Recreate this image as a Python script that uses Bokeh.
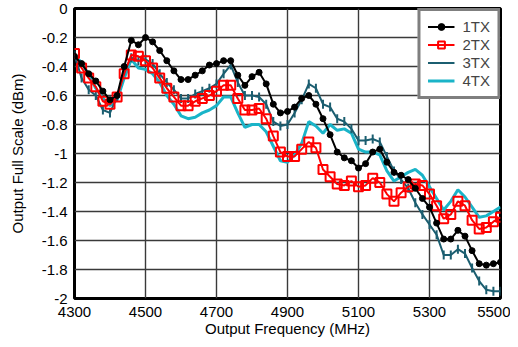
from bokeh.plotting import figure
from bokeh.models import Range1d, FixedTicker, Legend, LegendItem
from bokeh.embed import file_html
from bokeh.resources import INLINE
import numpy as np

freq = list(range(4300, 5501, 20))

tx1 = [-0.33, -0.38, -0.45, -0.50, -0.57, -0.63, -0.60, -0.40, -0.22, -0.25,
       -0.20, -0.23, -0.29, -0.36, -0.43, -0.49, -0.49, -0.46, -0.43, -0.39,
       -0.38, -0.36, -0.36, -0.46, -0.53, -0.47, -0.44, -0.52, -0.66, -0.72,
       -0.71, -0.68, -0.62, -0.60, -0.66, -0.76, -0.87, -0.99, -1.03, -1.05,
       -1.10, -1.07, -0.99, -0.97, -1.06, -1.13, -1.15, -1.18, -1.24, -1.31,
       -1.37, -1.48, -1.59, -1.59, -1.53, -1.57, -1.67, -1.76, -1.77, -1.76,
       -1.75]
tx2 = [-0.31, -0.41, -0.48, -0.54, -0.64, -0.66, -0.61, -0.45, -0.32, -0.33,
       -0.36, -0.41, -0.48, -0.55, -0.61, -0.67, -0.67, -0.64, -0.62, -0.60,
       -0.57, -0.53, -0.53, -0.62, -0.70, -0.70, -0.69, -0.76, -0.88, -0.99,
       -1.02, -1.02, -0.97, -0.92, -0.96, -1.11, -1.16, -1.21, -1.22, -1.19,
       -1.23, -1.22, -1.17, -1.20, -1.28, -1.33, -1.27, -1.23, -1.21, -1.22,
       -1.28, -1.36, -1.45, -1.42, -1.33, -1.36, -1.46, -1.52, -1.51, -1.47,
       -1.44]
tx3 = [-0.32, -0.48, -0.56, -0.60, -0.70, -0.72, -0.61, -0.43, -0.34, -0.36,
       -0.35, -0.38, -0.45, -0.51, -0.56, -0.62, -0.62, -0.59, -0.57, -0.55,
       -0.52, -0.45, -0.39, -0.51, -0.60, -0.60, -0.61, -0.66, -0.78, -0.81,
       -0.80, -0.72, -0.63, -0.52, -0.55, -0.66, -0.68, -0.76, -0.78, -0.83,
       -0.91, -0.91, -0.90, -0.92, -1.02, -1.12, -1.18, -1.24, -1.34, -1.42,
       -1.49, -1.56, -1.70, -1.70, -1.66, -1.69, -1.79, -1.88, -1.94, -1.95,
       -1.95]
tx4 = [-0.33, -0.37, -0.46, -0.55, -0.62, -0.67, -0.63, -0.48, -0.35, -0.41,
       -0.42, -0.45, -0.51, -0.60, -0.66, -0.74, -0.76, -0.75, -0.72, -0.70,
       -0.67, -0.61, -0.61, -0.72, -0.82, -0.80, -0.80, -0.85, -0.95, -1.05,
       -1.06, -1.01, -0.93, -0.78, -0.81, -0.86, -0.80, -0.84, -0.83, -0.86,
       -0.97, -0.99, -0.99, -1.01, -1.12, -1.19, -1.16, -1.13, -1.11, -1.15,
       -1.23, -1.31, -1.39, -1.33, -1.25, -1.30, -1.37, -1.44, -1.43, -1.40,
       -1.37]

series_names = ["1TX", "2TX", "3TX", "4TX"]
x_ticks = [4300, 4500, 4700, 4900, 5100, 5300, 5500]
y_ticks = [0, -0.2, -0.4, -0.6, -0.8, -1, -1.2, -1.4, -1.6, -1.8, -2]
y_tick_labels = ["0", "-0.2", "-0.4", "-0.6", "-0.8", "-1", "-1.2", "-1.4", "-1.6", "-1.8", "-2"]

FONT = "Liberation Sans"

p = figure(width=510, height=345, output_backend="svg", toolbar_location=None,
           x_range=Range1d(4300, 5500), y_range=Range1d(-2, 0),
           min_border_left=74, min_border_right=10, min_border_top=8, min_border_bottom=47)

p.outline_line_color = "black"
p.outline_line_width = 3
p.background_fill_color = "white"
p.border_fill_color = "white"

for ax in (p.xaxis[0], p.yaxis[0]):
    ax.axis_line_color = None
    ax.major_tick_in = 0
    ax.major_tick_out = 0
    ax.minor_tick_line_color = None
    ax.major_label_text_font = FONT
    ax.major_label_text_font_size = "15px"
    ax.major_label_text_color = "black"
    ax.axis_label_text_font = FONT
    ax.axis_label_text_font_size = "15px"
    ax.axis_label_text_font_style = "normal"
    ax.axis_label_text_color = "black"

p.xaxis.ticker = FixedTicker(ticks=x_ticks)
p.yaxis.ticker = FixedTicker(ticks=y_ticks)
p.yaxis.major_label_overrides = dict(zip(y_ticks, y_tick_labels))
p.xaxis.axis_label = "Output Frequency (MHz)"
p.yaxis.axis_label = "Output Full Scale (dBm)"
p.xaxis.major_label_standoff = 8
p.yaxis.major_label_standoff = 7
p.xaxis.axis_label_standoff = 0
p.yaxis.axis_label_standoff = 13

p.xgrid.ticker = FixedTicker(ticks=x_ticks)
p.ygrid.ticker = FixedTicker(ticks=y_ticks)
for g in (p.xgrid[0], p.ygrid[0]):
    g.grid_line_color = "#3a3a3a"
    g.grid_line_width = 1.4

c1, c2, c3, c4 = "black", "#ff0000", "#1b5e70", "#1ab4c8"

l4 = p.line(freq, tx4, line_color=c4, line_width=3)
l3 = p.line(freq, tx3, line_color=c3, line_width=2)
m3 = p.scatter(freq, tx3, marker="dash", angle=np.pi / 2, size=9, line_color=c3, line_width=2)
l2 = p.line(freq, tx2, line_color=c2, line_width=2)
m2 = p.scatter(freq, tx2, marker="square", size=9, line_color=c2, fill_color=None, line_width=2)
l1 = p.line(freq, tx1, line_color=c1, line_width=2)
m1 = p.scatter(freq, tx1, marker="circle", size=6, line_color=c1, fill_color=c1)

legend = Legend(items=[
    LegendItem(label=series_names[0], renderers=[l1, m1]),
    LegendItem(label=series_names[1], renderers=[l2, m2]),
    LegendItem(label=series_names[2], renderers=[l3, m3]),
    LegendItem(label=series_names[3], renderers=[l4]),
], location="top_right")
legend.border_line_color = "black"
legend.border_line_width = 3
legend.background_fill_alpha = 1
legend.label_text_font = FONT
legend.label_text_font_size = "15px"
legend.glyph_width = 27
legend.glyph_height = 17
legend.label_height = 17
legend.label_standoff = 8
legend.spacing = 1
legend.padding = 7
legend.margin = 0
p.add_layout(legend, "center")

open("out.html", "w").write(file_html(p, INLINE))
